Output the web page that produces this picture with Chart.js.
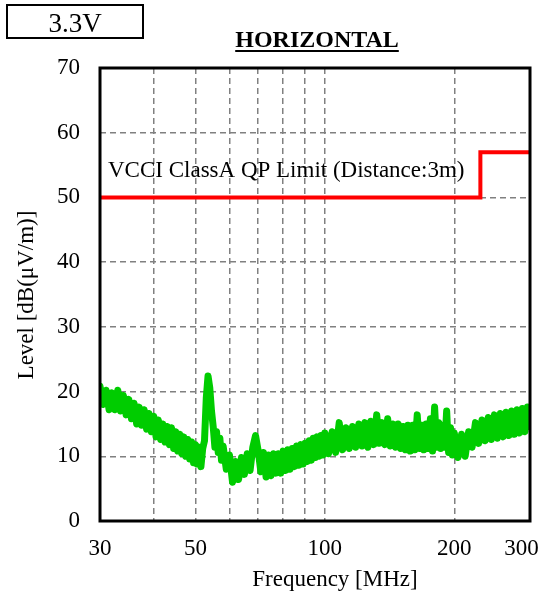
<!DOCTYPE html>
<html>
<head>
<meta charset="utf-8">
<script src="https://cdn.jsdelivr.net/npm/chart.js@4.4.1/dist/chart.umd.min.js"></script>
<style>
  html, body { margin: 0; padding: 0; background: #fff; }
  #plot { display: block; }
</style>
</head>
<body>
<canvas id="plot" width="544" height="598"></canvas>
<script>
// radiated emission scan, horizontal polarisation
const scanFreq = [
  30, 30.5, 31, 31.5, 32, 32.5, 33, 33.5, 34, 34.5, 35, 35.5, 36, 36.5, 37, 37.5, 38, 38.5, 39, 39.5,
  40, 40.5, 41, 41.5, 42, 42.5, 43, 43.5, 44, 44.5, 45, 45.5, 46, 46.5, 47, 47.5, 48, 48.5, 49, 49.5,
  50, 50.5, 51, 51.5, 52, 52.5, 53, 53.5, 54, 54.5, 55, 55.5, 56, 56.5, 57, 57.5, 58,
  59, 60, 61, 62, 63, 64, 65, 66, 67, 68, 69, 70, 71, 72, 73, 74, 75, 76, 77, 78, 79,
  80, 81, 82, 83, 84, 85, 86, 87, 88, 89, 90, 91, 92, 93, 94, 95, 96, 97, 98, 99, 100,
  102, 104, 106, 108, 110, 112, 114, 116, 118, 120, 122, 124, 126, 128, 130, 132, 134, 136, 138, 140,
  142, 144, 146, 148, 150, 152, 154, 156, 158, 160, 162, 164, 166, 168, 170, 172, 174, 176, 178, 180,
  182, 184, 186, 188, 190, 192, 194, 196, 198, 200,
  204, 208, 212, 216, 220, 224, 228, 232, 236, 240, 244, 248, 252, 256, 260, 264, 268, 272, 276, 280,
  284, 288, 292, 296, 300
];
const scanLevel = [
  20.8, 18.0, 20.2, 17.2, 19.8, 17.2, 20.2, 17.0, 19.4, 16.4, 18.8, 15.8, 18.2, 15.0, 17.6, 14.8, 17.2, 14.2, 16.6, 13.8,
  16.2, 13.0, 15.6, 12.6, 15.0, 12.2, 14.6, 11.8, 14.4, 11.2, 13.8, 10.8, 13.4, 10.4, 13.0, 10.0, 12.6, 9.6, 12.2, 9.0,
  11.8, 8.8, 11.4, 8.4, 11.2, 12.4, 19.0, 22.4, 20.6, 17.0, 14.6, 11.4, 13.8, 10.6, 12.8, 9.4, 11.6,
  8.0, 10.2, 6.0, 9.2, 6.4, 9.8, 7.2, 10.4, 7.8, 11.4, 13.2, 10.8, 7.6, 10.6, 6.8, 10.2, 7.0, 10.4, 7.4, 10.4, 7.4,
  10.8, 7.8, 11.0, 8.0, 11.2, 8.4, 11.6, 8.6, 11.8, 8.8, 12.0, 9.2, 12.4, 9.4, 12.8, 9.8, 13.0, 10.0, 13.2, 10.2, 13.6,
  10.4, 13.8, 10.6, 15.2, 11.0, 14.4, 11.2, 14.6, 11.4, 15.0, 11.6, 15.2, 11.4, 15.4, 11.8, 16.4, 12.0, 15.2, 11.8, 15.8,
  11.6, 15.0, 11.4, 15.0, 11.2, 14.6, 11.0, 14.8, 10.8, 14.8, 11.0, 16.4, 11.2, 14.8, 11.0, 15.0, 11.2, 15.8, 10.8, 17.6,
  11.4, 15.2, 11.2, 14.8, 11.4, 17.0, 10.6, 14.4, 10.2, 13.6,
  9.8, 13.4, 10.0, 13.8, 11.4, 15.2, 12.0, 15.6, 12.4, 16.0, 12.6, 16.4, 12.8, 16.6, 13.0, 16.8, 13.2, 17.0, 13.4, 17.2,
  13.6, 17.4, 13.8, 17.6, 14.6
];

// VCCI class A quasi-peak limit at 3 m
const limitFreq = [30, 230, 230, 300];
const limitLevel = [50, 50, 57, 57];

const xTicks = [30, 40, 50, 60, 70, 80, 90, 100, 200, 300];
const xLabels = { 30: '30', 50: '50', 100: '100', 200: '200', 300: '300   ' };
const yTicks = [0, 10, 20, 30, 40, 50, 60, 70];

const SERIF = '"Liberation Serif", "Times New Roman", serif';

const pts = (xs, ys) => xs.map((x, i) => ({ x: x, y: ys[i] }));

const decorations = {
  id: 'decorations',
  afterDraw(chart) {
    const ctx = chart.ctx;
    const a = chart.chartArea;
    ctx.save();

    // plot frame
    ctx.strokeStyle = '#000';
    ctx.lineWidth = 3;
    ctx.strokeRect(a.left, a.top, a.right - a.left, a.bottom - a.top);

    // voltage tag in the corner
    ctx.lineWidth = 2;
    ctx.strokeRect(7, 5, 136, 33);
    ctx.fillStyle = '#000';
    ctx.font = '27px ' + SERIF;
    ctx.textAlign = 'center';
    ctx.textBaseline = 'alphabetic';
    ctx.fillText('3.3V', 75, 32);

    // underlined heading
    ctx.font = 'bold 24px ' + SERIF;
    ctx.fillText('HORIZONTAL', 317, 47);
    const w = ctx.measureText('HORIZONTAL').width;
    ctx.fillRect(317 - w / 2, 50, w, 2);

    // limit caption
    ctx.font = '23px ' + SERIF;
    ctx.textAlign = 'left';
    ctx.fillText('VCCI ClassA QP Limit (Distance:3m)', 108, 177);

    // axis titles
    ctx.textAlign = 'center';
    ctx.fillText('Frequency [MHz]', 335, 586);
    ctx.translate(33, 295);
    ctx.rotate(-Math.PI / 2);
    ctx.fillText('Level [dB(\u03BCV/m)]', 0, 0);

    ctx.restore();
  }
};

new Chart(document.getElementById('plot'), {
  type: 'line',
  data: {
    datasets: [
      {
        label: 'Level',
        data: pts(scanFreq, scanLevel),
        borderColor: 'rgb(0, 204, 0)',
        borderWidth: 7,
        pointRadius: 0,
        tension: 0,
        borderJoinStyle: 'round',
        borderCapStyle: 'round'
      },
      {
        label: 'Limit',
        data: pts(limitFreq, limitLevel),
        borderColor: 'rgb(255, 0, 0)',
        borderWidth: 4,
        pointRadius: 0,
        tension: 0
      }
    ]
  },
  options: {
    responsive: false,
    animation: false,
    devicePixelRatio: 1,
    layout: { padding: { top: 68, right: 14, left: 0, bottom: 0 } },
    plugins: {
      legend: { display: false },
      tooltip: { enabled: false }
    },
    scales: {
      x: {
        type: 'logarithmic',
        min: 30,
        max: 300,
        afterBuildTicks: (scale) => { scale.ticks = xTicks.map(v => ({ value: v })); },
        afterFit: (scale) => {
          scale.height = 77;
          scale.paddingLeft = 0;
          scale.paddingRight = 0;
        },
        grid: { color: '#808080', lineWidth: 1.5, drawTicks: false },
        border: { display: false, dash: [6, 4] },
        ticks: {
          autoSkip: false,
          maxRotation: 0,
          padding: 14,
          color: '#000',
          font: { family: SERIF, size: 23 },
          callback: (v) => xLabels[v] || ''
        }
      },
      y: {
        min: 0,
        max: 70,
        afterBuildTicks: (scale) => { scale.ticks = yTicks.map(v => ({ value: v })); },
        afterFit: (scale) => {
          scale.width = 100;
          scale.paddingTop = 0;
          scale.paddingBottom = 0;
        },
        grid: { color: '#808080', lineWidth: 1.5, drawTicks: false },
        border: { display: false, dash: [6, 4] },
        ticks: {
          padding: 20,
          color: '#000',
          font: { family: SERIF, size: 23 }
        }
      }
    }
  },
  plugins: [decorations]
});
</script>
</body>
</html>
